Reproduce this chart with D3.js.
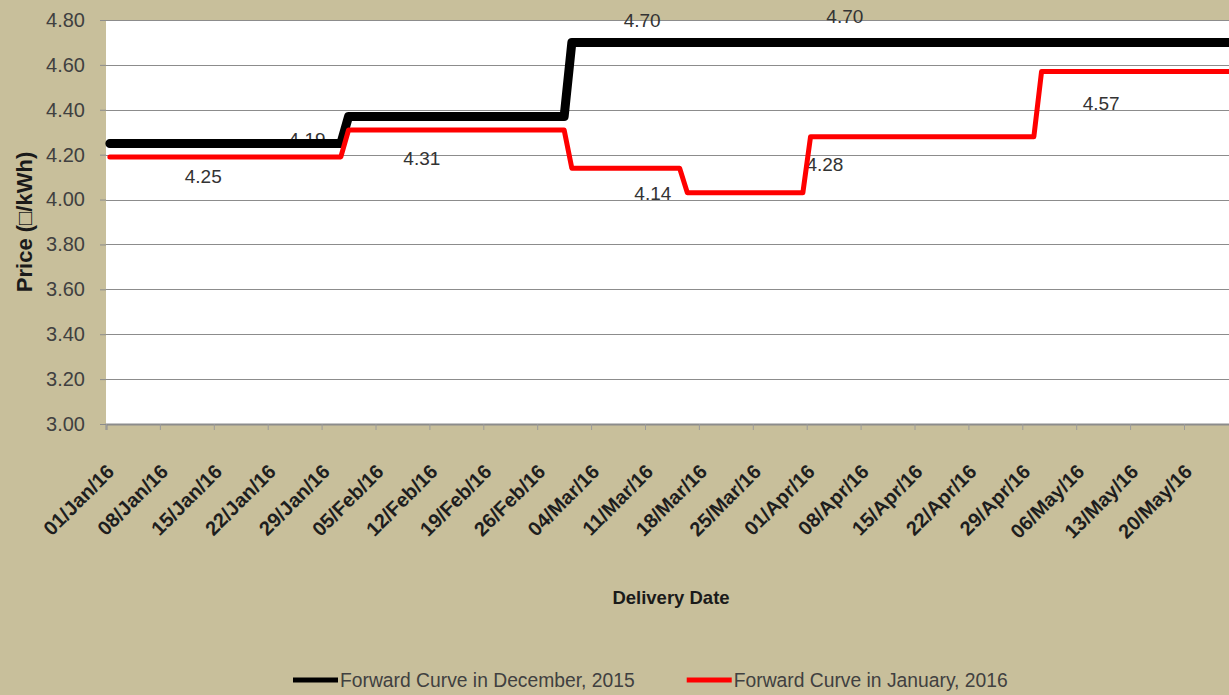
<!DOCTYPE html>
<html>
<head>
<meta charset="utf-8">
<script src="https://cdn.jsdelivr.net/npm/d3@7"></script>
<style>
  body { margin: 0; background: #c8bf9b; }
  svg { display: block; font-family: "Liberation Sans", Arial, sans-serif; }
</style>
</head>
<body>
<div id="chart"></div>
<script>
// step corners (one point per day, steps take one day)
const decDates = ["2016-01-01", "2016-01-31", "2016-02-01", "2016-02-29", "2016-03-01", "2016-05-31"]
const decValues = [4.25, 4.25, 4.37, 4.37, 4.70, 4.70]
const janDates = ["2016-01-01", "2016-01-31", "2016-02-01", "2016-02-29", "2016-03-01", "2016-03-15",
    "2016-03-16", "2016-03-31", "2016-04-01", "2016-04-30", "2016-05-01", "2016-05-31"]
const janValues = [4.19, 4.19, 4.31, 4.31, 4.14, 4.14, 4.03, 4.03, 4.28, 4.28, 4.57, 4.57]
const seriesNames = ["Forward Curve in December, 2015", "Forward Curve in January, 2016"]

const yTicks = [3.00, 3.20, 3.40, 3.60, 3.80, 4.00, 4.20, 4.40, 4.60, 4.80]
const tickDates = ["2016-01-01", "2016-01-08", "2016-01-15", "2016-01-22", "2016-01-29", "2016-02-05",
    "2016-02-12", "2016-02-19", "2016-02-26", "2016-03-04", "2016-03-11", "2016-03-18", "2016-03-25",
    "2016-04-01", "2016-04-08", "2016-04-15", "2016-04-22", "2016-04-29", "2016-05-06", "2016-05-13",
    "2016-05-20"]

// data labels: which series, anchor date, value shown
const labelSeries = [0, 1, 1, 0, 0, 1, 1, 1]
const labelDates = ["2016-01-13", "2016-01-27", "2016-02-10", "2016-03-10", "2016-04-05", "2016-03-11",
    "2016-04-03", "2016-05-09"]
const labelValues = [4.25, 4.19, 4.31, 4.70, 4.70, 4.14, 4.28, 4.57]
// layout nudges (px) for the labels, kept apart from the values
const labelNudge = [[1, 39.5], [-3, -11], [4, 35], [1, -15.5], [3.5, -19.5], [4, 32], [-1, 34], [-2, 38]]

const width = 1229, height = 695
const margin = {top: 20, left: 106, bottom: 424}
const pxPerDay = 7.7
const colors = ["#000000", "#ff0000"]
const strokeW = [9, 5]

const parse = d3.utcParse("%Y-%m-%d")
const fmt = d3.utcFormat("%d/%b/%y")
const start = parse("2016-01-01"), end = parse("2016-06-01")

const x = d3.scaleUtc()
    .domain([start, end])
    .range([margin.left, margin.left + d3.utcDay.count(start, end) * pxPerDay])
const y = d3.scaleLinear()
    .domain([3.0, 4.8])
    .range([margin.bottom, margin.top])

// points sit in the middle of their day slot
const xMid = d => x(d3.utcHour.offset(d, 12))

const series = [
    decDates.map((d, i) => ({date: parse(d), value: decValues[i]})),
    janDates.map((d, i) => ({date: parse(d), value: janValues[i]})),
]

const svg = d3.select("#chart").append("svg")
    .attr("width", width)
    .attr("height", height)

svg.append("rect")
    .attr("width", width)
    .attr("height", height)
    .attr("fill", "#c8bf9b")

svg.append("rect")
    .attr("x", margin.left)
    .attr("y", margin.top)
    .attr("width", x.range()[1] - margin.left)
    .attr("height", margin.bottom - margin.top)
    .attr("fill", "#ffffff")

// y axis with gridlines
const yAxis = d3.axisLeft(y)
    .tickValues(yTicks)
    .tickFormat(d3.format(".2f"))
    .tickSize(6)
    .tickPadding(15)
const gy = svg.append("g")
    .attr("transform", `translate(${margin.left},0)`)
    .call(yAxis)
gy.select(".domain").remove()
gy.selectAll(".tick line").attr("stroke", "#8c8c8c")
gy.selectAll(".tick text")
    .attr("fill", "#404040")
    .style("font-size", "20px")
    .style("font-family", "Liberation Sans, Arial, sans-serif")

svg.append("g")
    .selectAll("line")
    .data(yTicks.filter(v => v > 3.0))
    .join("line")
    .attr("x1", margin.left)
    .attr("x2", width)
    .attr("y1", d => Math.round(y(d)) + 0.5)
    .attr("y2", d => Math.round(y(d)) + 0.5)
    .attr("stroke", "#8c8c8c")
    .attr("stroke-width", 1)

// x axis
const xAxis = d3.axisBottom(x)
    .tickValues(tickDates.map(parse))
    .tickFormat(fmt)
    .tickSize(6)
    .tickPadding(0)
const gx = svg.append("g")
    .attr("transform", `translate(0,${margin.bottom})`)
    .call(xAxis)
gx.select(".domain")
    .attr("stroke", "#8c8c8c")
    .attr("stroke-width", 2)
gx.selectAll(".tick line").attr("stroke", "#9a9a9a")
gx.selectAll(".tick text")
    .attr("fill", "#1e1e1e")
    .style("font-size", "20px")
    .style("font-weight", "bold")
    .style("font-family", "Liberation Sans, Arial, sans-serif")
    .attr("text-anchor", "end")
    .attr("dy", "0.35em")
    .attr("y", 0)
    .attr("transform", "translate(4,44) rotate(-45)")

// data labels under the lines
svg.append("g")
    .selectAll("text")
    .data(labelValues)
    .join("text")
    .attr("x", (d, i) => xMid(parse(labelDates[i])) + labelNudge[i][0])
    .attr("y", (d, i) => y(d) + labelNudge[i][1])
    .attr("text-anchor", "middle")
    .attr("fill", "#333333")
    .style("font-size", "19px")
    .text(d => d.toFixed(2))

const line = d3.line()
    .x(d => xMid(d.date))
    .y(d => y(d.value))

svg.append("g")
    .selectAll("path")
    .data(series)
    .join("path")
    .attr("fill", "none")
    .attr("stroke", (d, i) => colors[i])
    .attr("stroke-width", (d, i) => strokeW[i])
    .attr("stroke-linejoin", "round")
    .attr("stroke-linecap", "round")
    .attr("d", line)

// axis titles
svg.append("text")
    .attr("x", 671)
    .attr("y", 604)
    .attr("text-anchor", "middle")
    .attr("fill", "#1a1a1a")
    .style("font-size", "18.5px")
    .style("font-weight", "bold")
    .text("Delivery Date")

svg.append("text")
    .attr("transform", "translate(32,222) rotate(-90)")
    .attr("text-anchor", "middle")
    .attr("fill", "#1a1a1a")
    .style("font-size", "22px")
    .style("font-weight", "bold")
    .text("Price (\u25A1/kWh)")

// legend
const legend = svg.append("g")
let lx = 293
seriesNames.forEach((name, i) => {
    const item = legend.append("g").attr("transform", `translate(${lx},680)`)
    item.append("line")
        .attr("x1", 0)
        .attr("x2", 45)
        .attr("stroke", colors[i])
        .attr("stroke-width", 5)
    const t = item.append("text")
        .attr("x", 47)
        .attr("y", 7)
        .attr("fill", "#404040")
        .style("font-size", "19.3px")
        .text(name)
    lx += 47 + t.node().getComputedTextLength() + 52
})
</script>
</body>
</html>
